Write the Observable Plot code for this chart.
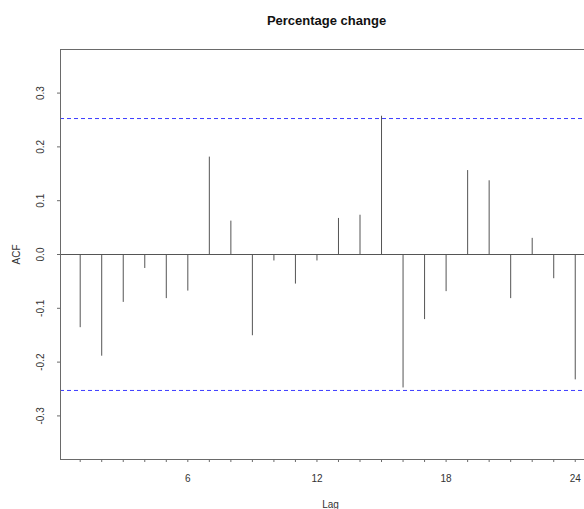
<!DOCTYPE html>
<html>
<head>
<meta charset="utf-8">
<script src="https://cdn.jsdelivr.net/npm/d3@7"></script>
<script src="https://cdn.jsdelivr.net/npm/@observablehq/plot@0.6"></script>
<style>
  html, body { margin: 0; padding: 0; background: #fff; }
</style>
</head>
<body>
<div id="chart"></div>
<script>
const lags = [1,2,3,4,5,6,7,8,9,10,11,12,13,14,15,16,17,18,19,20,21,22,23,24];
const acfValues = [-0.136,-0.189,-0.089,-0.026,-0.082,-0.068,0.181,0.062,-0.151,-0.012,-0.055,-0.012,
                   0.067,0.073,0.257,-0.248,-0.121,-0.069,0.156,0.137,-0.082,0.030,-0.045,-0.233];
const confLimit = 0.2527;
const yTicks = [-0.3,-0.2,-0.1,0.0,0.1,0.2,0.3];
const xLabelTicks = [6,12,18,24];
const titleText = "Percentage change";
const xLabel = "Lag";
const yLabel = "ACF";

const data = lags.map((l, i) => ({lag: l, acf: acfValues[i]}));
const xDomain = [0.085, 24.43];
const yDomain = [-0.381, 0.381];
const frameColor = "#6a6a6a";
const barColor = "#555";

const chart = Plot.plot({
  width: 584,
  height: 509,
  marginTop: 49,
  marginBottom: 50,
  marginLeft: 60,
  marginRight: 0,
  style: {fontFamily: "'Liberation Sans', Arial, sans-serif", fontSize: "10px", color: "#333", background: "#fff"},
  x: {type: "linear", domain: xDomain},
  y: {type: "linear", domain: yDomain},
  marks: [
    Plot.ruleY([0], {stroke: barColor, strokeWidth: 1}),
    Plot.ruleX(data, {x: "lag", y1: 0, y2: "acf", stroke: barColor, strokeWidth: 1}),
    Plot.ruleY([confLimit, -confLimit], {stroke: "#3c3cff", strokeWidth: 1, strokeDasharray: "4,3"}),
    Plot.ruleY([yDomain[1], yDomain[0]], {stroke: frameColor, strokeWidth: 1}),
    Plot.ruleX([xDomain[0]], {stroke: frameColor, strokeWidth: 1}),
    Plot.axisX({ticks: lags, tickSize: 3, tickPadding: 12, stroke: frameColor,
                tickFormat: d => xLabelTicks.includes(d) ? String(d) : "", label: null, fontSize: 10, fill: "#333"}),
    Plot.axisY({ticks: yTicks, tickSize: 3, stroke: frameColor, tickFormat: () => "", label: null}),
    Plot.text(yTicks, {y: d => d, text: d => d.toFixed(1), frameAnchor: "left", dx: -20,
                       rotate: -90, textAnchor: "middle", lineAnchor: "middle", fontSize: 10, fill: "#333"}),
    Plot.text([titleText], {frameAnchor: "top", dx: 4, dy: -29, lineAnchor: "middle",
                            fontWeight: "bold", fontSize: 13, fill: "#111"}),
    Plot.text([yLabel], {frameAnchor: "left", dx: -44, rotate: -90, textAnchor: "middle",
                         lineAnchor: "middle", fontSize: 10, fill: "#333"}),
    Plot.text([xLabel], {frameAnchor: "bottom", dx: 8, dy: 45, lineAnchor: "middle", fontSize: 10, fill: "#333"})
  ]
});
document.getElementById("chart").appendChild(chart);
</script>
</body>
</html>
